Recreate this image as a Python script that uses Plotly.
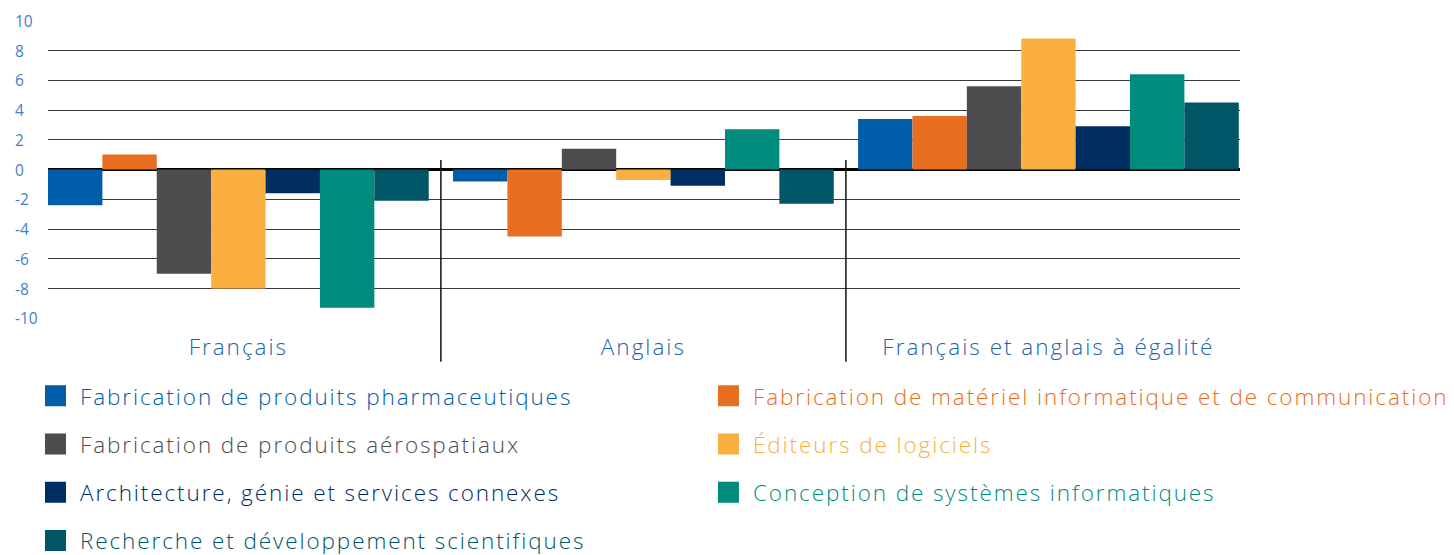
import plotly.graph_objects as go

categories = ["Français", "Anglais", "Français et anglais à égalité"]

series_names = [
    "Fabrication de produits pharmaceutiques",
    "Fabrication de matériel informatique et de communication",
    "Fabrication de produits aérospatiaux",
    "Éditeurs de logiciels",
    "Architecture, génie et services connexes",
    "Conception de systèmes informatiques",
    "Recherche et développement scientifiques",
]

pharma = [-2.4, -0.8, 3.4]
materiel = [1.0, -4.5, 3.6]
aero = [-7.0, 1.4, 5.6]
logiciels = [-8.0, -0.7, 8.8]
architecture = [-1.6, -1.1, 2.9]
conception = [-9.3, 2.7, 6.4]
recherche = [-2.1, -2.3, 4.5]

series_values = [pharma, materiel, aero, logiciels, architecture, conception, recherche]

colors = ["#005DAA", "#E86E21", "#4D4D4F", "#FBAF41", "#002D62", "#008C7D", "#005566"]

# legend column assignment (left column, right column)
legend_ids = ["legend", "legend2", "legend", "legend2", "legend", "legend2", "legend"]

y_ticks = [-10, -8, -6, -4, -2, 0, 2, 4, 6, 8, 10]

FONT = "Open Sans"

fig = go.Figure()

for name, vals, col in zip(series_names, series_values, colors):
    fig.add_trace(go.Bar(
        x=categories, y=vals, name=name, marker=dict(color=col, line=dict(width=0)),
        showlegend=False, legendgroup=name,
    ))

for name, col, lg in zip(series_names, colors, legend_ids):
    fig.add_trace(go.Scatter(
        x=[None], y=[None], mode="markers",
        marker=dict(symbol="square", size=16, color=col, line=dict(color=col, width=5)),
        name=f"<span style='color:{col};letter-spacing:1.9px'>{name}</span>",
        legend=lg, legendgroup=name, showlegend=True,
    ))

for t in y_ticks:
    fig.add_annotation(
        x=-0.0294, xref="paper", xanchor="left", y=t, yref="y", yanchor="middle",
        text=str(t), showarrow=False,
        font=dict(family=FONT, size=15.5, color="#3F7FCA", weight=400),
    )

for xs in [0.5, 1.5]:
    fig.add_shape(type="line", xref="x", yref="paper", x0=xs, x1=xs,
                  y0=-0.143, y1=0.532, line=dict(color="#111111", width=1.5))

legend_common = dict(
    orientation="v", xanchor="left", yanchor="top", y=-0.186,
    font=dict(family=FONT, size=22.5, weight=300, color="#333"),
    bgcolor="rgba(0,0,0,0)", tracegroupgap=16, itemwidth=39,
    itemclick=False, itemdoubleclick=False,
)

fig.update_layout(
    width=1446, height=547,
    margin=dict(l=40, r=214, t=12, b=235.7, autoexpand=False),
    paper_bgcolor="white", plot_bgcolor="white",
    barmode="group", bargap=0.06, bargroupgap=0,
    font=dict(family=FONT),
    xaxis=dict(
        type="category", range=[-0.47, 2.473], showgrid=False, zeroline=False,
        showline=False, ticks="", ticklabelstandoff=12,
        tickvals=categories,
        ticktext=[f"<span style='letter-spacing:2px'>{c}</span>" for c in categories],
        tickfont=dict(family=FONT, size=22.5, color="#1F62AD", weight=300),
    ),
    yaxis=dict(
        range=[-10.05, 10.05], tickvals=y_ticks, showticklabels=False,
        showgrid=True, gridcolor="#3A3A3A", gridwidth=1,
        zeroline=True, zerolinecolor="#000000", zerolinewidth=3, showline=False,
    ),
    legend=dict(x=-0.01426, **legend_common),
    legend2=dict(x=0.5503, **legend_common),
)

fig.write_html("out.html")
